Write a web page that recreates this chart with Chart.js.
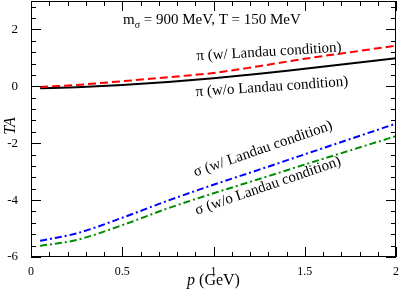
<!DOCTYPE html>
<html lang="en">
<head>
    <meta charset="UTF-8">
    <title>TA vs p</title>
    <script src="https://cdn.jsdelivr.net/npm/chart.js"></script>
    <style>
        html, body { margin: 0; padding: 0; background: #fff; }
        #wrap { width: 399px; height: 289px; position: relative; }
    </style>
</head>
<body>
    <div id="wrap"><canvas id="chart"></canvas></div>

    <script>
        // momentum in GeV
        const pValues = [0.05, 0.25, 0.5, 0.75, 1.0, 1.25, 1.5, 1.75, 2.0];

        // pion curves
        const piWithLandau = [-0.02, 0.05, 0.18, 0.32, 0.47, 0.71, 0.97, 1.2, 1.43];
        const piWithoutLandau = [-0.07, -0.03, 0.05, 0.15, 0.28, 0.44, 0.62, 0.8, 0.99];

        // sigma curves
        const sigmaWithLandau = [-5.43, -5.17, -4.62, -4.02, -3.46, -2.93, -2.39, -1.85, -1.31];
        const sigmaWithoutLandau = [-5.61, -5.4, -4.88, -4.29, -3.76, -3.26, -2.75, -2.25, -1.75];

        const xTicks = [0, 0.5, 1, 1.5, 2];
        const yTicks = [-6, -4, -2, 0, 2];

        const toPoints = ys => pValues.map((p, i) => ({ x: p, y: ys[i] }));

        function line(label, ys, color, dash) {
            return {
                label: label,
                data: toPoints(ys),
                borderColor: color,
                borderWidth: 2,
                borderDash: dash,
                pointRadius: 0,
                fill: false,
                cubicInterpolationMode: 'monotone'
            };
        }

        const serif = '"Liberation Serif", "DejaVu Serif", serif';

        // xmgrace-like inward ticks on all four sides plus the text labels
        const decorations = {
            id: 'decorations',
            afterDatasetsDraw(chart) {
                const ctx = chart.ctx;
                const a = chart.chartArea;
                const xs = chart.scales.x;
                const ys = chart.scales.y;
                ctx.save();
                ctx.strokeStyle = '#000';
                ctx.lineWidth = 1;
                ctx.strokeRect(a.left + 0.5, a.top + 0.5, a.right - a.left - 1, a.bottom - a.top - 1);

                ctx.beginPath();
                for (let i = 0; i <= 20; i++) {
                    const v = i * 0.1;
                    const px = Math.round(xs.getPixelForValue(v)) + 0.5;
                    const len = (i % 5 === 0) ? 10 : 5;
                    ctx.moveTo(px, a.bottom); ctx.lineTo(px, a.bottom - len);
                    ctx.moveTo(px, a.top); ctx.lineTo(px, a.top + len);
                }
                for (let i = 0; i <= 22; i++) {
                    const v = -6 + i * 0.4;
                    if (v > 3.01) break;
                    const py = Math.round(ys.getPixelForValue(v)) + 0.5;
                    const len = (i % 5 === 0) ? 10 : 5;
                    ctx.moveTo(a.left, py); ctx.lineTo(a.left + len, py);
                    ctx.moveTo(a.right, py); ctx.lineTo(a.right - len, py);
                }
                ctx.stroke();

                ctx.fillStyle = '#000';
                ctx.textBaseline = 'alphabetic';

                // title annotation
                ctx.font = '15px ' + serif;
                ctx.textAlign = 'left';
                let x = 123, y = 24;
                ctx.fillText('m', x, y);
                x += ctx.measureText('m').width;
                ctx.font = '10px ' + serif;
                ctx.fillText('σ', x, y + 4);
                x += ctx.measureText('σ').width;
                ctx.font = '15px ' + serif;
                ctx.fillText(' = 900 MeV, T = 150 MeV', x, y);

                // rotated curve labels
                const rot = (text, cx, cy, deg) => {
                    ctx.save();
                    ctx.translate(cx, cy);
                    ctx.rotate(deg * Math.PI / 180);
                    ctx.font = '15px ' + serif;
                    ctx.textAlign = 'center';
                    ctx.textBaseline = 'middle';
                    ctx.fillText(text, 0, 0);
                    ctx.restore();
                };
                rot('π (w/ Landau condition)', 269, 52, -3.5);
                rot('π (w/o Landau condition)', 272, 87, -4);
                rot('σ (w/ Landau condition)', 263, 149, -19);
                rot('σ (w/o Landau condition)', 268, 186, -19);

                // axis titles
                ctx.save();
                ctx.translate(11, 126);
                ctx.rotate(-Math.PI / 2);
                ctx.font = 'italic 16px ' + serif;
                ctx.textAlign = 'center';
                ctx.textBaseline = 'middle';
                ctx.fillText('TA', 0, 0);
                ctx.restore();

                ctx.textBaseline = 'alphabetic';
                ctx.textAlign = 'left';
                ctx.font = 'italic 16px ' + serif;
                const pw = ctx.measureText('p').width;
                ctx.font = '16px ' + serif;
                const gw = ctx.measureText(' (GeV)').width;
                const sx = (a.left + a.right) / 2 - (pw + gw) / 2;
                ctx.font = 'italic 16px ' + serif;
                ctx.fillText('p', sx, 285);
                ctx.font = '16px ' + serif;
                ctx.fillText(' (GeV)', sx + pw, 285);
                ctx.restore();
            }
        };

        new Chart(document.getElementById('chart').getContext('2d'), {
            type: 'line',
            data: {
                datasets: [
                    line('π (w/ Landau condition)', piWithLandau, '#ff0000', [8, 4]),
                    line('π (w/o Landau condition)', piWithoutLandau, '#000000', []),
                    line('σ (w/ Landau condition)', sigmaWithLandau, '#0000ff', [7, 3, 2, 3]),
                    line('σ (w/o Landau condition)', sigmaWithoutLandau, '#008c00', [7, 3, 2, 3])
                ]
            },
            options: {
                responsive: true,
                maintainAspectRatio: false,
                animation: false,
                layout: { padding: { top: 1, right: 3, left: 0, bottom: 0 } },
                plugins: { legend: { display: false }, tooltip: { enabled: false } },
                scales: {
                    x: {
                        type: 'linear',
                        min: 0, max: 2,
                        afterBuildTicks: s => { s.ticks = xTicks.map(v => ({ value: v })); },
                        afterFit: s => { s.height = 32; s.paddingLeft = 0; s.paddingRight = 0; },
                        grid: { display: false },
                        border: { display: false },
                        ticks: {
                            color: '#000',
                            font: { family: serif, size: 12 },
                            padding: 0,
                            maxRotation: 0,
                            callback: v => String(v)
                        }
                    },
                    y: {
                        type: 'linear',
                        min: -6, max: 3,
                        afterBuildTicks: s => { s.ticks = yTicks.map(v => ({ value: v })); },
                        afterFit: s => { s.width = 31; s.paddingTop = 0; s.paddingBottom = 0; },
                        grid: { display: false },
                        border: { display: false },
                        ticks: {
                            color: '#000',
                            font: { family: serif, size: 13 },
                            padding: 5,
                            callback: v => String(v)
                        }
                    }
                }
            },
            plugins: [decorations]
        });
    </script>
</body>
</html>
